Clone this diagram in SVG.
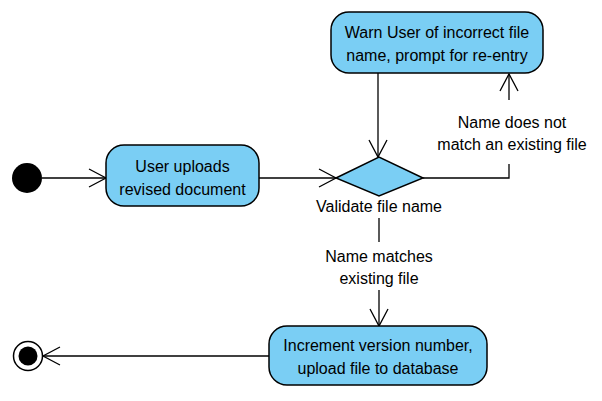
<svg xmlns="http://www.w3.org/2000/svg" width="602" height="401" viewBox="0 0 602 401">
<style>
.node{fill:#7ACEF4;stroke:#000;stroke-width:1.5}
.t{font-family:"Liberation Sans",Arial,sans-serif;font-size:16px;fill:#000;text-anchor:middle}
.e{fill:none;stroke:#000;stroke-width:1.3}
</style>
<defs>
<marker id="arr" viewBox="0 0 20 20" refX="18" refY="10" markerWidth="20" markerHeight="20" markerUnits="userSpaceOnUse" orient="auto">
<path d="M1,1 L18,10 L1,19" fill="none" stroke="#000" stroke-width="1.3"/>
</marker>
</defs>
<rect width="602" height="401" fill="#fff"/>
<g id="connectors">
<line class="e" x1="42" y1="178" x2="106" y2="178" marker-end="url(#arr)"/>
<line class="e" x1="259" y1="178" x2="336" y2="178" marker-end="url(#arr)"/>
<line class="e" x1="378" y1="73" x2="378" y2="157" marker-end="url(#arr)"/>
<polyline class="e" points="423,178 509,178 509,164"/>
<line class="e" x1="509" y1="100" x2="509" y2="74" marker-end="url(#arr)"/>
<line class="e" x1="379" y1="218" x2="379" y2="242"/>
<line class="e" x1="379" y1="290" x2="379" y2="326" marker-end="url(#arr)"/>
<line class="e" x1="269" y1="356" x2="43" y2="356" marker-end="url(#arr)"/>
<text class="t" x="512" y="128">Name does not</text>
<text class="t" x="512" y="150">match an existing file</text>
<text class="t" x="379" y="262">Name matches</text>
<text class="t" x="379" y="284">existing file</text>
</g>
<g id="start">
<circle cx="27" cy="178" r="15" fill="#000"/>
</g>
<g id="upload">
<rect class="node" x="106" y="145" width="153" height="61" rx="18"/>
<text class="t" x="182.5" y="172">User uploads</text>
<text class="t" x="182.5" y="195">revised document</text>
</g>
<g id="validate">
<polygon class="node" points="336,178 379,157 423,178 379,196"/>
<text class="t" x="379" y="212">Validate file name</text>
</g>
<g id="warn">
<rect class="node" x="331" y="12" width="212" height="61" rx="18"/>
<text class="t" x="437" y="38">Warn User of incorrect file</text>
<text class="t" x="437" y="61">name, prompt for re-entry</text>
</g>
<g id="increment">
<rect class="node" x="269" y="326" width="218" height="59" rx="18"/>
<text class="t" x="378" y="351">Increment version number,</text>
<text class="t" x="378" y="374">upload file to database</text>
</g>
<g id="end">
<circle cx="28" cy="356" r="14.5" fill="#fff" stroke="#000" stroke-width="1.5"/>
<circle cx="28" cy="356" r="9.5" fill="#000"/>
</g>
</svg>
